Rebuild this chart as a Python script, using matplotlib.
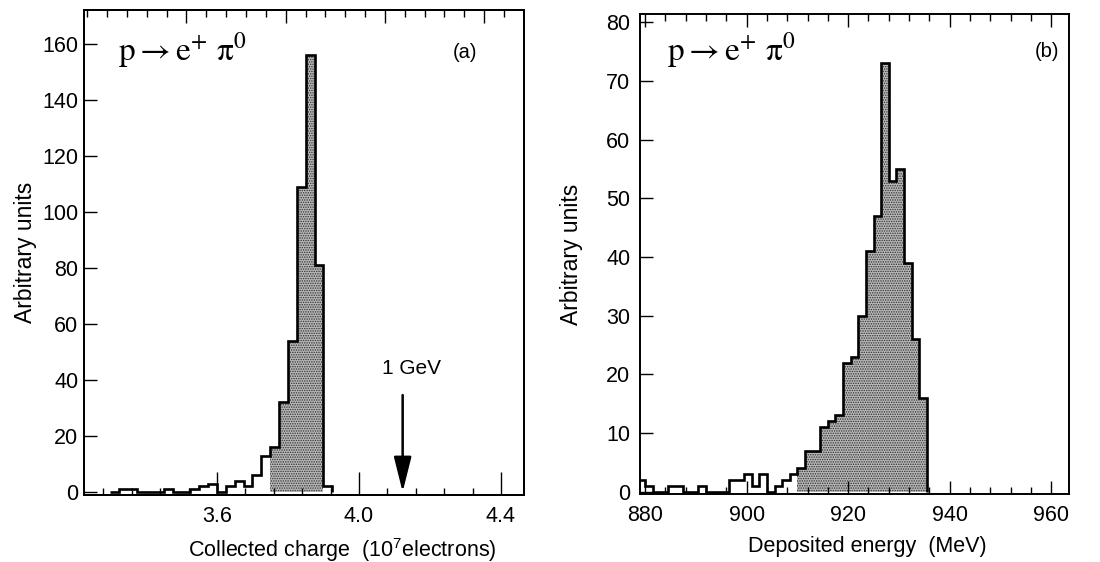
import matplotlib
matplotlib.use("Agg")

import matplotlib.pyplot as plt
from matplotlib.ticker import MultipleLocator, FixedLocator, NullFormatter
import numpy as np

# collected charge spectrum, 0.025 wide bins (10^7 electrons)
charge_start = 3.30
charge_width = 0.025
charge_counts = [0, 1, 1, 0, 0, 0, 1, 0, 0, 1, 2, 3, 0, 2, 4, 2, 6, 13,
                 16, 32, 54, 109, 156, 81, 2]
charge_fill = (18, 24)          # bins 3.750 .. 3.900 are shaded

# deposited energy spectrum, 1.5 MeV bins
energy_start = 878.5
energy_width = 1.5
energy_counts = [2, 1, 0, 0, 1, 1, 0, 0, 1, 0, 0, 0, 2, 2, 3, 1, 3, 0, 1, 2, 3,
                 4, 7, 7, 11, 12, 13, 22, 23, 30, 41, 47, 73, 53, 55, 39, 26, 16]
energy_fill = (21, 38)          # bins 910 .. 935.5 are shaded

gev_charge = 4.123              # where 1 GeV sits on the charge scale

plt.rcParams["font.family"] = ["Liberation Sans", "DejaVu Sans"]
plt.rcParams["mathtext.fontset"] = "custom"
plt.rcParams["mathtext.rm"] = "Liberation Sans"
plt.rcParams["mathtext.it"] = "Liberation Sans:italic"
plt.rcParams["hatch.linewidth"] = 0.7

FS_TICK = 15.5
FS_LAB = 15.5
W, H = 1100, 562
fig = plt.figure(figsize=(W / 100, H / 100), dpi=100)


def px_axes(x0, y0, x1, y1):
    return fig.add_axes([x0 / W, 1 - y1 / H, (x1 - x0) / W, (y1 - y0) / H])


def draw_hist(ax, start, width, counts, fill):
    edges = start + width * np.arange(len(counts) + 1)
    a, b = fill
    ax.stairs(counts[a:b], edges[a:b + 1], baseline=0, fill=True,
              facecolor="#b8b8b8", edgecolor="#303030", linewidth=0,
              hatch=".......", zorder=1)
    ax.stairs(counts, edges, baseline=0, color="black", linewidth=1.9,
              zorder=2)


def style(ax):
    for s in ax.spines.values():
        s.set_linewidth(1.4)
    ax.tick_params(axis="both", which="both", direction="in", width=1.0,
                   labelsize=FS_TICK, colors="black")


formula = r"$\mathrm{p}\rightarrow\mathrm{e}^{+}\ \mathrm{\pi}^{0}$"

# ---- (a) collected charge ----
ax1 = px_axes(84, 10, 524, 495)
draw_hist(ax1, charge_start, charge_width, charge_counts, charge_fill)
ax1.set_xlim(3.2254, 4.4648)
ax1.set_ylim(-1.07, 172.1)
style(ax1)
ax1.xaxis.set_major_locator(FixedLocator([3.6, 4.0, 4.4]))
ax1.xaxis.set_minor_locator(MultipleLocator(0.08))
ax1.yaxis.set_major_locator(MultipleLocator(20))
ax1.tick_params(axis="x", which="major", length=16.5, pad=8)
ax1.tick_params(axis="x", which="minor", length=5)
ax1.tick_params(axis="y", which="major", length=9.5, pad=4)
ax1.set_xticklabels(["3.6", "4.0", "4.4"])

# unlabelled tick scale along the top edge
top = ax1.twiny()
top.set_xlim(ax1.get_xlim())
step = 0.0559
top.xaxis.set_minor_locator(FixedLocator(3.2346 + step * np.arange(22)))
top.xaxis.set_major_locator(FixedLocator(3.2346 + step * 5 * np.arange(1, 5)))
top.xaxis.set_major_formatter(NullFormatter())
top.tick_params(axis="x", which="both", direction="in", width=1.0)
top.tick_params(axis="x", which="major", length=9)
top.tick_params(axis="x", which="minor", length=5)
for s in top.spines.values():
    s.set_linewidth(1.4)

ax1.set_xlabel(r"Collected charge  (10$^{7}$electrons)", fontsize=FS_LAB)
ax1.xaxis.set_label_coords(0.586, -0.085)
ax1.set_ylabel("Arbitrary units", fontsize=16.5)
ax1.yaxis.set_label_coords(-0.107, 0.5)
ax1.text(0.0766, 0.897, formula, transform=ax1.transAxes, fontsize=24,
         math_fontfamily="stix", ha="left", va="baseline")
ax1.text(0.866, 0.913, "(a)", transform=ax1.transAxes, fontsize=14.5,
         ha="center", va="center")

ax1.annotate("", xy=(gev_charge, 0), xytext=(gev_charge, 34.6),
             arrowprops=dict(arrowstyle="-|>,head_length=0.6,head_width=0.15",
                             mutation_scale=36, color="black", lw=1.8,
                             shrinkA=0, shrinkB=0))
ax1.text(gev_charge + 0.025, 44, "1 GeV", fontsize=15, ha="center",
         va="center")

# ---- (b) deposited energy ----
ax2 = px_axes(640, 14, 1069, 494)
draw_hist(ax2, energy_start, energy_width, energy_counts, energy_fill)
ax2.set_xlim(879.0, 963.5)
ax2.set_ylim(-0.4, 81.4)
style(ax2)
ax2.xaxis.set_major_locator(MultipleLocator(20))
ax2.xaxis.set_minor_locator(MultipleLocator(4))
ax2.yaxis.set_major_locator(MultipleLocator(10))
ax2.tick_params(axis="x", which="both", top=True)
ax2.tick_params(axis="x", which="major", length=9.5, pad=8)
ax2.tick_params(axis="x", which="minor", length=5)
ax2.tick_params(axis="y", which="major", length=9, pad=7)

ax2.set_xlabel("Deposited energy  (MeV)", fontsize=FS_LAB)
ax2.xaxis.set_label_coords(0.531, -0.0875)
ax2.set_ylabel("Arbitrary units", fontsize=16.5)
ax2.yaxis.set_label_coords(-0.133, 0.5)
ax2.text(0.063, 0.904, formula, transform=ax2.transAxes, fontsize=24,
         math_fontfamily="stix", ha="left", va="baseline")
ax2.text(0.949, 0.921, "(b)", transform=ax2.transAxes, fontsize=14.5,
         ha="center", va="center")

fig.savefig("out.png", dpi=100)
